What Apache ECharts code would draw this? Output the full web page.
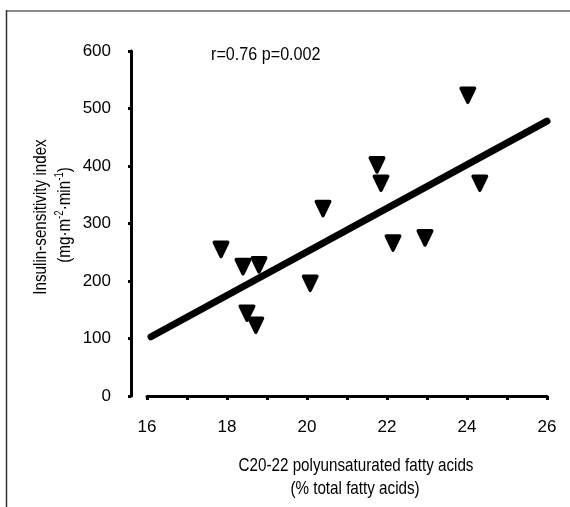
<!DOCTYPE html>
<html>
<head>
<meta charset="utf-8">
<script src="https://cdn.jsdelivr.net/npm/echarts@6/dist/echarts.min.js"></script>
<style>
html,body{margin:0;padding:0;background:#fff;}
#chart{width:570px;height:507px;}
</style>
</head>
<body>
<div id="chart"></div>
<script>
// Data
const pufa = [17.85, 18.4, 18.8, 18.5, 18.72, 20.08, 20.4, 21.75, 21.85, 22.15, 22.95, 24.02, 24.32];
const insulinSens = [255, 225, 228, 144, 123, 196, 326, 402, 370, 266, 275, 523, 370];
const fitX = [16.1, 26];
const fitY = [103, 478];
const xTicks = [16, 18, 20, 22, 24, 26];
const yTicks = [0, 100, 200, 300, 400, 500, 600];
const statText = 'r=0.76 p=0.002';
const xTitle1 = 'C20-22 polyunsaturated fatty acids';
const xTitle2 = '(% total fatty acids)';
const yTitle1 = 'Insulin-sensitivity index';
const yTitle2 = '{t|(mg·m}{s|-2}{t|·min}{s|-1}{t|)}';

const FONT = '"Liberation Sans", Arial, sans-serif';
const SX = 0.8; // condensed look for titles

const chart = echarts.init(document.getElementById('chart'), null, {renderer: 'canvas'});

const scatterData = pufa.map((x, i) => [x, insulinSens[i]]);
const fitData = fitX.map((x, i) => [x, fitY[i]]);

chart.setOption({
  animation: false,
  backgroundColor: '#fff',
  grid: {left: 147, right: 23, top: 51, bottom: 111, containLabel: false},
  xAxis: {
    type: 'value',
    min: xTicks[0],
    max: xTicks[xTicks.length - 1],
    interval: 1,
    axisLine: {show: true, lineStyle: {color: '#000', width: 3}},
    axisTick: {show: true, length: 4, lineStyle: {color: '#000', width: 3}},
    axisLabel: {
      interval: 1,
      color: '#000', fontSize: 17, fontFamily: FONT, margin: 23,
      formatter: v => (xTicks.indexOf(v) >= 0 ? String(v) : '')
    },
    splitLine: {show: false}
  },
  yAxis: {
    type: 'value',
    min: yTicks[0],
    max: yTicks[yTicks.length - 1],
    interval: 100,
    offset: 16,
    axisLine: {show: true, lineStyle: {color: '#000', width: 3}},
    axisTick: {show: true, length: 3, lineStyle: {color: '#000', width: 3}},
    axisLabel: {color: '#000', fontSize: 17, fontFamily: FONT, margin: 20},
    splitLine: {show: false}
  },
  graphic: [
    {type: 'line', shape: {x1: 6, y1: 11, x2: 570, y2: 11}, style: {stroke: '#8a8a8a', lineWidth: 2}, silent: true},
    {type: 'line', shape: {x1: 6.5, y1: 10, x2: 6.5, y2: 507}, style: {stroke: '#333', lineWidth: 1.5}, silent: true},
    {type: 'text', x: 211, y: 55, scaleX: 0.85,
      style: {text: statText, fill: '#000', fontSize: 19, fontFamily: FONT, verticalAlign: 'middle', align: 'left'}, silent: true},
    {type: 'text', x: 356, y: 466, scaleX: SX,
      style: {text: xTitle1, fill: '#000', fontSize: 19, fontFamily: FONT, verticalAlign: 'middle', align: 'center'}, silent: true},
    {type: 'text', x: 355, y: 489, scaleX: SX,
      style: {text: xTitle2, fill: '#000', fontSize: 19, fontFamily: FONT, verticalAlign: 'middle', align: 'center'}, silent: true},
    {type: 'text', x: 41, y: 217, rotation: Math.PI / 2, scaleX: SX,
      style: {text: yTitle1, fill: '#000', fontSize: 19, fontFamily: FONT, verticalAlign: 'middle', align: 'center'}, silent: true},
    {type: 'text', x: 65, y: 215, rotation: Math.PI / 2, scaleX: SX,
      style: {
        text: yTitle2, fill: '#000', fontSize: 19, fontFamily: FONT, verticalAlign: 'middle', align: 'center',
        rich: {
          t: {fontSize: 19, fontFamily: FONT, fill: '#000', lineHeight: 22, verticalAlign: 'middle'},
          s: {fontSize: 12, fontFamily: FONT, fill: '#000', lineHeight: 22, verticalAlign: 'top'}
        }
      }, silent: true}
  ],
  series: [
    {
      type: 'line',
      data: fitData,
      symbol: 'none',
      lineStyle: {color: '#000', width: 7, cap: 'round'},
      silent: true,
      z: 2
    },
    {
      type: 'scatter',
      data: scatterData,
      symbol: 'triangle',
      symbolRotate: 180,
      symbolSize: [13.5, 14],
      itemStyle: {color: '#000', borderColor: '#000', borderWidth: 3.5, borderJoin: 'round', opacity: 1},
      silent: true,
      z: 3
    }
  ]
});
</script>
</body>
</html>
